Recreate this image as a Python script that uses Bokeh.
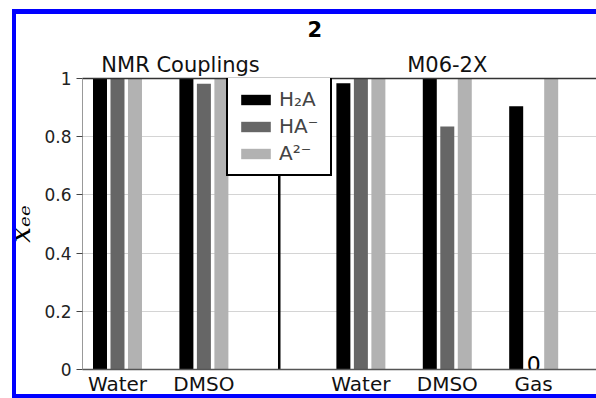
from bokeh.plotting import figure
from bokeh.models import (Range1d, FixedTicker, CustomJSTickFormatter, LinearAxis,
                          Span, ColumnDataSource, Legend, InlineStyleSheet)
from bokeh.core.properties import value
from bokeh.embed import file_html
from bokeh.resources import INLINE

# ---------------- data ----------------
title_text = "2"
methods = ["NMR Couplings", "NMR Couplings", "M06-2X", "M06-2X", "M06-2X"]
solvents = ["Water", "DMSO", "Water", "DMSO", "Gas"]
h2a = [1.0, 1.0, 0.984, 1.0, 0.905]
ha = [1.0, 0.982, 1.0, 0.835, 0.0]
a2 = [1.0, 1.0, 1.0, 1.0, 1.0]
series_names = ["H₂A", "HA⁻", "A²⁻"]
y_ticks = [0, 0.2, 0.4, 0.6, 0.8, 1.0]
y_tick_labels = ["0", "0.2", "0.4", "0.6", "0.8", "1"]
method_labels = ["NMR Couplings", "M06-2X"]
y_label = "xₑₑ"

# ---------------- layout constants ----------------
GROUP_GAP = 1.817      # distance between method blocks (in solvent units)
DIVIDER_FRAC = 0.48    # where the divider sits inside the gap
DODGE = 0.2025
BAR_W = 0.162
LABEL_SHIFT = [0.23, 0.0]   # horizontal nudge of the method labels
colors = ["#000000", "#666666", "#b2b2b2"]
FONT = "DejaVu Sans"

pos = []
for i, m in enumerate(methods):
    pos.append(i + (GROUP_GAP - 1) * (m != methods[0]))
n_first = sum(1 for m in methods if m == methods[0])
divider_x = pos[n_first - 1] + DIVIDER_FRAC * GROUP_GAP
method_x = []
for k, name in enumerate(method_labels):
    xs = [pos[i] for i, m in enumerate(methods) if m == name]
    method_x.append(sum(xs) / len(xs) + LABEL_SHIFT[k])

p = figure(width=596, height=398,
           x_range=Range1d(-0.405, 5.544), y_range=Range1d(0, 1),
           output_backend="svg", toolbar_location=None,
           min_border_left=82, min_border_right=0,
           min_border_top=78, min_border_bottom=29)
p.outline_line_color = None
p.background_fill_color = "white"
p.border_fill_color = "white"

# title "2"
p.title.text = title_text
p.title.align = "left"
p.title.offset = 225
p.title.text_font = FONT
p.title.text_font_size = "21px"
p.title.text_font_style = "bold"
p.title.text_color = "black"
p.title.standoff = 26

# grid
p.xgrid.visible = False
p.ygrid.ticker = FixedTicker(ticks=y_ticks)
p.ygrid.grid_line_color = "#d4d4d4"
p.ygrid.grid_line_width = 1

# divider
p.add_layout(Span(location=divider_x, dimension="height", line_color="black",
                  line_width=2.5, level="underlay"))

src = ColumnDataSource(dict(x=pos, h2a=h2a, ha=ha, a2=a2,
                            x0=[v - DODGE for v in pos], x2=[v + DODGE for v in pos]))
r1 = p.vbar(x="x0", top="h2a", width=BAR_W, source=src, fill_color=colors[0], line_color=None)
r2 = p.vbar(x="x", top="ha", width=BAR_W, source=src, fill_color=colors[1], line_color=None)
r3 = p.vbar(x="x2", top="a2", width=BAR_W, source=src, fill_color=colors[2], line_color=None)

# zero-value annotation
zero_idx = [i for i, v in enumerate(ha) if v == 0]
zsrc = ColumnDataSource(dict(x=[pos[i] for i in zero_idx], y=[ha[i] for i in zero_idx],
                             t=["0" for _ in zero_idx]))
p.text(x="x", y="y", text="t", source=zsrc, text_align="center", text_baseline="alphabetic",
       y_offset=-6, text_font=value(FONT), text_font_size="22px", text_color="black")

# x axis
xa = p.xaxis[0]
xa.ticker = FixedTicker(ticks=pos)
xa.formatter = CustomJSTickFormatter(args=dict(pos=pos, labs=solvents), code="""
let best = 0;
for (let i = 0; i < pos.length; i++) {
  if (Math.abs(pos[i] - tick) < Math.abs(pos[best] - tick)) best = i;
}
return labs[best];
""")
xa.major_tick_out = 0
xa.major_tick_in = 0
xa.minor_tick_out = 0
xa.minor_tick_in = 0
xa.major_label_standoff = 2
xa.major_label_text_font = FONT
xa.major_label_text_font_size = "20px"
xa.major_label_text_color = "#111111"
xa.axis_line_color = "#555555"
xa.axis_line_width = 1.5

# y axis
ya = p.yaxis[0]
ya.ticker = FixedTicker(ticks=y_ticks)
ya.formatter = CustomJSTickFormatter(args=dict(vals=y_ticks, labs=y_tick_labels), code="""
for (let i = 0; i < vals.length; i++) { if (Math.abs(vals[i] - tick) < 1e-9) return labs[i]; }
return '';
""")
ya.major_tick_out = 6
ya.major_tick_in = 0
ya.minor_tick_out = 0
ya.minor_tick_in = 0
ya.major_tick_line_color = "#444444"
ya.axis_line_color = "#999999"
ya.major_label_standoff = 5
ya.major_label_text_font = FONT
ya.major_label_text_font_size = "17px"
ya.major_label_text_color = "#222222"
ya.axis_label = y_label
ya.axis_label_text_font = "DejaVu Serif"
ya.axis_label_text_font_style = "italic"
ya.axis_label_text_font_size = "28px"
ya.axis_label_text_color = "black"
ya.axis_label_standoff = 4

# top line carrying the method labels
top_axis = LinearAxis(ticker=FixedTicker(ticks=method_x), axis_line_color="#333333",
                      axis_line_width=1.5, major_tick_out=0, major_tick_in=0,
                      minor_tick_out=0, minor_tick_in=0,
                      major_label_standoff=2,
                      major_label_text_font=FONT, major_label_text_font_size="21px",
                      major_label_text_color="#111111")
top_axis.formatter = CustomJSTickFormatter(args=dict(pos=method_x, labs=method_labels), code="""
let best = 0;
for (let i = 0; i < pos.length; i++) {
  if (Math.abs(pos[i] - tick) < Math.abs(pos[best] - tick)) best = i;
}
return labs[best];
""")
p.add_layout(top_axis, "above")

# legend
legend = Legend(items=[(series_names[0], [r1]), (series_names[1], [r2]), (series_names[2], [r3])],
                location=(144, 193))
legend.label_text_font = FONT
legend.label_text_font_size = "20px"
legend.border_line_color = "black"
legend.border_line_width = 2
legend.border_line_alpha = 1
legend.background_fill_color = "white"
legend.background_fill_alpha = 1
legend.padding = 9
legend.spacing = 3
legend.margin = 0
legend.glyph_width = 37
legend.glyph_height = 13
legend.label_standoff = 5
legend.label_width = 42
p.add_layout(legend, "center")

# blue frame around the figure panel (page decoration): left, top and bottom bands
p.stylesheets = [InlineStyleSheet(css="""
:host { position: relative; }
:host::after {
  content: ""; position: absolute; left: 12px; top: 9px; width: 584px; height: 389px;
  pointer-events: none; z-index: 10;
  background:
    linear-gradient(#0000ff, #0000ff) left top / 4px 100% no-repeat,
    linear-gradient(#0000ff, #0000ff) left top / 100% 5px no-repeat,
    linear-gradient(#0000ff, #0000ff) left bottom / 100% 4px no-repeat;
}
""")]

open("out.html", "w").write(file_html(p, INLINE))
